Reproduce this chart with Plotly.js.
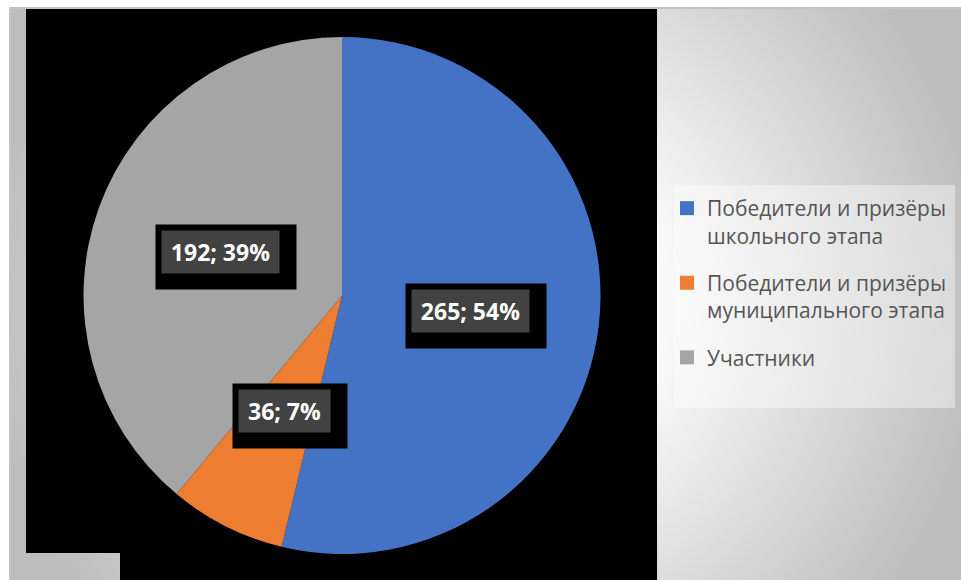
<!DOCTYPE html>
<html>
<head>
<meta charset="utf-8">
<script src="https://cdn.plot.ly/plotly-3.0.1.min.js"></script>
<style>
  html, body { margin: 0; padding: 0; background: #ffffff; }
  #wrap { position: relative; width: 961px; height: 580px; overflow: hidden; }
  #bg { position: absolute; left: 9px; top: 7px; right: 0; bottom: 0;
        background: radial-gradient(circle at 476px 293px, #ffffff 0px, #fbfbfb 170px, #bdbdbd 500px);
        border-top: 2px solid #c3c3c3; border-left: 2px solid #c3c3c3; box-sizing: border-box; }
  #blk1 { position: absolute; left: 26px; top: 9px; width: 631px; height: 544px; background: #000; }
  #blk2 { position: absolute; left: 120px; top: 553px; width: 537px; height: 27px; background: #000; }
  #legbox { position: absolute; left: 674px; top: 185px; width: 281px; height: 223px; background: rgba(255,255,255,0.4); }
  #chart { position: absolute; left: 0; top: 0; width: 961px; height: 580px; }
</style>
</head>
<body>
<div id="wrap">
  <div id="bg"></div>
  <div id="blk1"></div>
  <div id="blk2"></div>
  <div id="legbox"></div>
  <div id="chart"></div>
</div>
<script>
const categories = ['Победители и призёры<br>школьного этапа', 'Победители и призёры<br>муниципального этапа', 'Участники'];
const values = [265, 36, 192];
const colors = ['#4472C4', '#ED7D31', '#A5A5A5'];

const W = 961, H = 580;
const dom = { x: [0.0869, 0.6249], y: [0.0448, 0.9362] };

const total = values.reduce((a, b) => a + b, 0);
const cx = (dom.x[0] + dom.x[1]) / 2 * W;
const cy = (dom.y[0] + dom.y[1]) / 2 * H; // from bottom
const R = Math.min((dom.x[1] - dom.x[0]) * W, (dom.y[1] - dom.y[0]) * H) / 2;

const labelFont = 'Open Sans, sans-serif';
const annotations = [];
let cum = 0;
values.forEach((v, i) => {
  const mid = (cum + v / 2) / total * 2 * Math.PI; // clockwise from 12 o'clock
  cum += v;
  const px = cx + 0.5 * R * Math.sin(mid);
  const py = cy + 0.5 * R * Math.cos(mid);
  const plain = v + '; ' + Math.round(v / total * 100) + '%';
  const boxW = 13 * (plain.length + 1), boxH = 42;
  const common = { xref: 'paper', yref: 'paper', x: px / W, y: py / H, xanchor: 'center', yanchor: 'middle', showarrow: false, borderpad: 0 };
  // black backing box
  annotations.push(Object.assign({}, common, {
    text: ' ', width: boxW + 23, height: boxH + 22,
    font: { family: labelFont, size: 10, color: 'rgba(0,0,0,0)' },
    bgcolor: '#000000', xshift: 5.5, yshift: -5
  }));
  // label
  annotations.push(Object.assign({}, common, {
    text: '<b>' + plain + '</b>', width: boxW, height: boxH, align: 'center', valign: 'middle',
    font: { family: labelFont, size: 23, color: '#ffffff' },
    bgcolor: '#424242'
  }));
});

const data = [{
  type: 'pie',
  labels: categories,
  values: values,
  marker: { colors: colors, line: { width: 0 } },
  sort: false,
  direction: 'clockwise',
  rotation: 0,
  textinfo: 'none',
  hoverinfo: 'none',
  showlegend: false,
  domain: dom
}];

// legend entries (one per category, same colours as the slices)
categories.forEach((c, i) => {
  data.push({
    type: 'scatter', mode: 'markers',
    x: [null], y: [null],
    name: c,
    legendgroup: 'g' + i,
    marker: { symbol: 'square', size: 14, color: colors[i] },
    hoverinfo: 'none',
    showlegend: true
  });
});

const layout = {
  width: W, height: H,
  margin: { l: 0, r: 0, t: 0, b: 0 },
  paper_bgcolor: 'rgba(0,0,0,0)',
  plot_bgcolor: 'rgba(0,0,0,0)',
  xaxis: { visible: false, domain: [0.99, 1] },
  yaxis: { visible: false, domain: [0.99, 1] },
  showlegend: true,
  legend: {
    x: 667 / W, xanchor: 'left',
    y: 1 - 188 / H, yanchor: 'top',
    bgcolor: 'rgba(0,0,0,0)',
    valign: 'top',
    font: { family: 'Open Sans, sans-serif', size: 21, color: '#555555' },
    tracegroupgap: 17,
    traceorder: 'grouped'
  },
  annotations: annotations
};

Plotly.newPlot('chart', data, layout, { displayModeBar: false, staticPlot: true });
</script>
</body>
</html>
